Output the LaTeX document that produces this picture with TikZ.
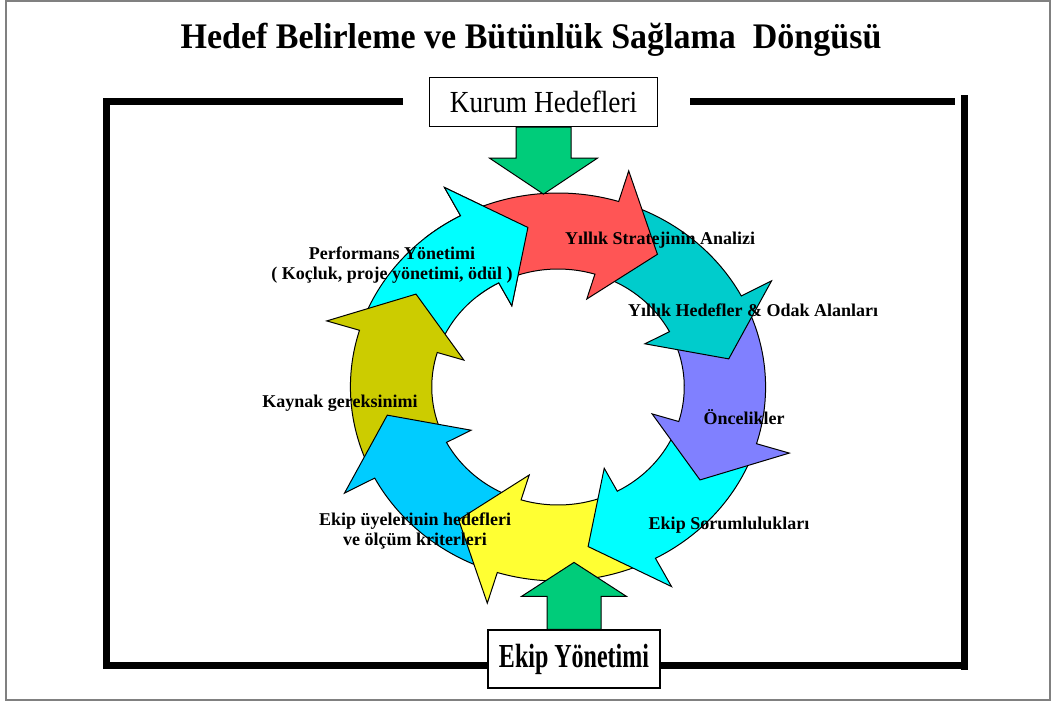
\documentclass[tikz,border=0pt]{standalone}
\usepackage{fontspec}
\setmainfont{Liberation Serif}
\usetikzlibrary{calc}

\definecolor{kirmizi}{RGB}{255,85,85}
\definecolor{turkuaz}{RGB}{0,204,204}
\definecolor{mor}{RGB}{128,128,255}
\definecolor{camgobegi}{RGB}{0,255,255}
\definecolor{sari}{RGB}{255,255,51}
\definecolor{mavi}{RGB}{0,204,255}
\definecolor{zeytin}{RGB}{204,204,0}
\definecolor{yesil}{RGB}{0,204,122}

% one curved arrow of the ring: colour, angle of the tip
\newcommand{\halkaok}[2]{%
    \filldraw[halka, fill=#1] ({#2+59}:118) -- ({#2+59}:194)
        arc[start angle=#2+59, end angle=#2+18, radius=194]
        -- ({#2+18}:226) -- (#2:162) -- ({#2+18}:92) -- ({#2+18}:118)
        arc[start angle=#2+18, end angle=#2+59, radius=118] -- cycle;}

\begin{document}
\begin{tikzpicture}[x=0.75pt,y=-0.75pt,
    halka/.style={draw=black, line width=0.75pt, line join=miter},
    yesilok/.style={draw=black, fill=yesil, line width=0.75pt},
    cerceve/.style={line width=5.25pt, black},
    kutu/.style={draw=black, fill=white, line width=0.9pt, inner sep=0pt},
    etiket/.style={font=\bfseries\fontsize{13.5}{15}\selectfont, align=center}]
    \useasboundingbox (0,0) rectangle (1055,704);
    % outer grey border
    \draw[gray, line width=1.2pt] (6,1) rectangle (1050,700);
    % title
    \node (baslik) at (531,40) {\scalebox{1.02}[1.08]{\bfseries\fontsize{25}{30}\selectfont Hedef Belirleme ve Bütünlük Sağlama~ Döngüsü}};
    % thick frame
    \draw[cerceve] (403,101) -- (106,101) -- (106,665) -- (964,665);
    \draw[cerceve] (690,101) -- (955,101);
    \draw[cerceve] (964,95) -- (964,670);
    % ring of arrows
    \begin{scope}[shift={(558,387)}, xscale=1.07, yscale=-1]
        \foreach \renk/\uc in {camgobegi/100, zeytin/145, mavi/190, sari/235,
                camgobegi/280, mor/325, turkuaz/370, kirmizi/415}
            \halkaok{\renk}{\uc};
        % head of the last arrow lies on the tail of the first one
        \begin{scope}
            \clip (0,0) -- (72:300) arc[start angle=72, end angle=130, radius=300] -- cycle;
            \halkaok{camgobegi}{100}
        \end{scope}
    \end{scope}
    % boxes
    \node[kutu, minimum width=171pt, minimum height=36.75pt] (kurum) at (543.5,102)
        {\scalebox{1}[1.12]{\fontsize{20.5}{24}\selectfont Kurum Hedefleri}};
    \node[kutu, minimum width=129pt, minimum height=43.5pt] (ekip) at (574,659)
        {\scalebox{1}[1.4]{\bfseries\fontsize{18}{20}\selectfont Ekip Yönetimi}};
    % green arrows
    \coordinate (ustuc) at ($(kurum.south)+(0,67)$);
    \draw[yesilok] ($(kurum.south)+(-27.5,0)$) -- ++(0,31) -- ++(-26.5,0) -- (ustuc)
        -- ($(kurum.south)+(54,31)$) -- ++(-26.5,0) -- ($(kurum.south)+(27.5,0)$) -- cycle;
    \coordinate (altuc) at ($(ekip.north)+(0,-67)$);
    \draw[yesilok] ($(ekip.north)+(-27,0)$) -- ++(0,-33) -- ++(-25.5,0) -- (altuc)
        -- ($(ekip.north)+(52.5,-33)$) -- ++(-25.5,0) -- ($(ekip.north)+(27,0)$) -- cycle;
    % labels
    \node[etiket] (strateji) at (660,240) {Yıllık Stratejinin Analizi};
    \node[etiket] (odak) at (753,310) {Yıllık Hedefler \& Odak Alanları};
    \node[etiket] (oncelik) at (744,417) {Öncelikler};
    \node[etiket] (sorumluluk) at (729,525) {Ekip Sorumlulukları};
    \node[etiket] (uyeler) at (415,531) {Ekip üyelerinin hedefleri\\ve ölçüm kriterleri};
    \node[etiket] (kaynak) at (340,403) {Kaynak gereksinimi};
    \node[etiket] (performans) at (392,265) {Performans Yönetimi\\( Koçluk, proje yönetimi, ödül )};
\end{tikzpicture}
\end{document}
